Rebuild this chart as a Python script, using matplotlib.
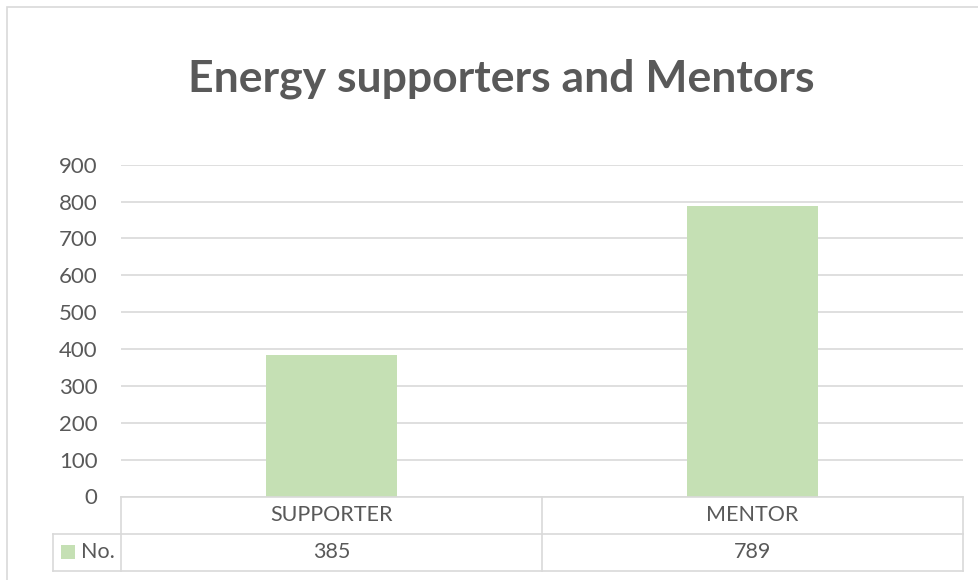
import matplotlib.pyplot as plt
from matplotlib.patches import Rectangle
from matplotlib.lines import Line2D

categories = ['SUPPORTER', 'MENTOR']
values = [385, 789]
series_name = 'No.'
title = 'Energy supporters and Mentors'
yticks = [0, 100, 200, 300, 400, 500, 600, 700, 800, 900]

bar_color = '#C5E0B4'
grid_color = '#D9D9D9'
text_color = '#595959'

plt.rcParams['font.family'] = ['Lato', 'DejaVu Sans']

W, H = 979, 580
fig = plt.figure(figsize=(W / 100, H / 100), dpi=100)
ax = fig.add_axes([121 / W, 1 - 496.5 / H, (963 - 121) / W, (496.5 - 164.7) / H])

x = list(range(len(categories)))
ax.bar(x, values, width=0.31, color=bar_color, zorder=2)
ax.set_xlim(-0.5, len(categories) - 0.5)
ax.set_ylim(0, 900)
ax.set_yticks(yticks)
ax.tick_params(axis='y', length=0, pad=17, labelsize=16, labelcolor=text_color)
ax.set_xticks([])
for s in ax.spines.values():
    s.set_visible(False)
ax.grid(axis='y', color=grid_color, linewidth=1.2, zorder=0)
ax.set_axisbelow(True)

# chart title
fig.text(501 / W, 1 - 79 / H, title, ha='center', va='center', fontsize=32,
         fontweight='bold', color=text_color)

# data table under the axis
tr = ax.get_xaxis_transform()
row_h = 37 / (496.5 - 164.7)
x_left = -0.5 - 68 / 421
x_right = len(categories) - 0.5
lk = dict(color=grid_color, linewidth=1.2, transform=tr, clip_on=False)
ax.add_line(Line2D([-0.5, x_right], [0, 0], **lk))
ax.add_line(Line2D([x_left, x_right], [-row_h, -row_h], **lk))
ax.add_line(Line2D([x_left, x_right], [-2 * row_h, -2 * row_h], **lk))
ax.add_line(Line2D([x_left, x_left], [-row_h, -2 * row_h], **lk))
for i in range(len(categories) + 1):
    ax.add_line(Line2D([i - 0.5, i - 0.5], [0, -2 * row_h], **lk))

for i, (c, v) in enumerate(zip(categories, values)):
    ax.text(i, -0.5 * row_h, c, transform=tr, ha='center', va='center',
            fontsize=15.5, color=text_color)
    ax.text(i, -1.5 * row_h, str(v), transform=tr, ha='center', va='center',
            fontsize=15.5, color=text_color)

# legend key in the table
ax.add_patch(Rectangle((-0.5 - 60 / 421, -1.5 * row_h - 7 / 331.8), 14 / 421, 14 / 331.8,
                       transform=tr, facecolor=bar_color, edgecolor='none', clip_on=False))
ax.text(-0.5 - 40 / 421, -1.5 * row_h, series_name, transform=tr, ha='left', va='center',
        fontsize=15.5, color=text_color)

# chart border
fig.patches.append(Rectangle((7 / W, -0.5), 1.5, 1.5 - 7 / H, transform=fig.transFigure,
                             fill=False, edgecolor=grid_color, linewidth=1.2))

fig.savefig('out.png', dpi=100)
